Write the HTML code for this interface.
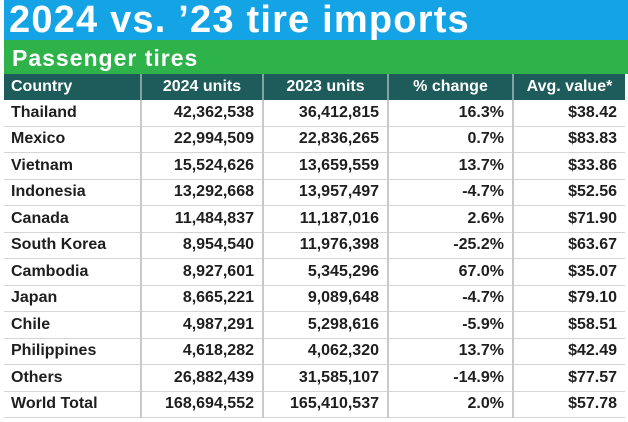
<!DOCTYPE html>
<html><head><style>
body{margin:0;width:628px;height:422px;background:#fff;position:relative;overflow:hidden;font-family:"Liberation Sans",sans-serif}
.t{position:absolute;left:4px;top:0;width:624px;height:40px;background:#14a4e6;color:#fff;font-weight:bold;font-size:38px;line-height:41px;padding-left:5px;box-sizing:border-box;letter-spacing:1.2px}
.g{position:absolute;left:4px;top:40px;width:624px;height:34px;background:#2eb34b;color:#fff;font-weight:bold;font-size:23px;line-height:36px;padding-left:8px;box-sizing:border-box;letter-spacing:1px}
table{position:absolute;left:4px;top:74px;border-collapse:collapse;width:621px;table-layout:fixed}
th{background:#1d5c5a;color:#fff;font-weight:bold;font-size:16px;height:26px;padding:0;border-left:2px solid #7fa3a0;text-align:center}
th:first-child{border-left:none;text-align:left;padding-left:7px}
td{height:25.5px;padding:0 8px 0 0;font-size:16px;font-weight:bold;color:#1e1e1e;text-align:right;border-left:2px solid #c9c9c9;border-bottom:1.5px solid #d4d4d4;white-space:nowrap}
td:first-child{text-align:left;padding-left:7px;border-left:none}
</style></head><body>
<div class="t">2024 vs. ’23 tire imports</div>
<div class="g">Passenger tires</div>
<table>
<colgroup><col style="width:137px"><col style="width:122px"><col style="width:125px"><col style="width:125px"><col style="width:112px"></colgroup>
<tr><th>Country</th><th>2024 units</th><th>2023 units</th><th>% change</th><th>Avg. value*</th></tr>
<tr><td>Thailand</td><td>42,362,538</td><td>36,412,815</td><td>16.3%</td><td>$38.42</td></tr>
<tr><td>Mexico</td><td>22,994,509</td><td>22,836,265</td><td>0.7%</td><td>$83.83</td></tr>
<tr><td>Vietnam</td><td>15,524,626</td><td>13,659,559</td><td>13.7%</td><td>$33.86</td></tr>
<tr><td>Indonesia</td><td>13,292,668</td><td>13,957,497</td><td>-4.7%</td><td>$52.56</td></tr>
<tr><td>Canada</td><td>11,484,837</td><td>11,187,016</td><td>2.6%</td><td>$71.90</td></tr>
<tr><td>South Korea</td><td>8,954,540</td><td>11,976,398</td><td>-25.2%</td><td>$63.67</td></tr>
<tr><td>Cambodia</td><td>8,927,601</td><td>5,345,296</td><td>67.0%</td><td>$35.07</td></tr>
<tr><td>Japan</td><td>8,665,221</td><td>9,089,648</td><td>-4.7%</td><td>$79.10</td></tr>
<tr><td>Chile</td><td>4,987,291</td><td>5,298,616</td><td>-5.9%</td><td>$58.51</td></tr>
<tr><td>Philippines</td><td>4,618,282</td><td>4,062,320</td><td>13.7%</td><td>$42.49</td></tr>
<tr><td>Others</td><td>26,882,439</td><td>31,585,107</td><td>-14.9%</td><td>$77.57</td></tr>
<tr><td>World Total</td><td>168,694,552</td><td>165,410,537</td><td>2.0%</td><td>$57.78</td></tr>
</table>
</body></html>
